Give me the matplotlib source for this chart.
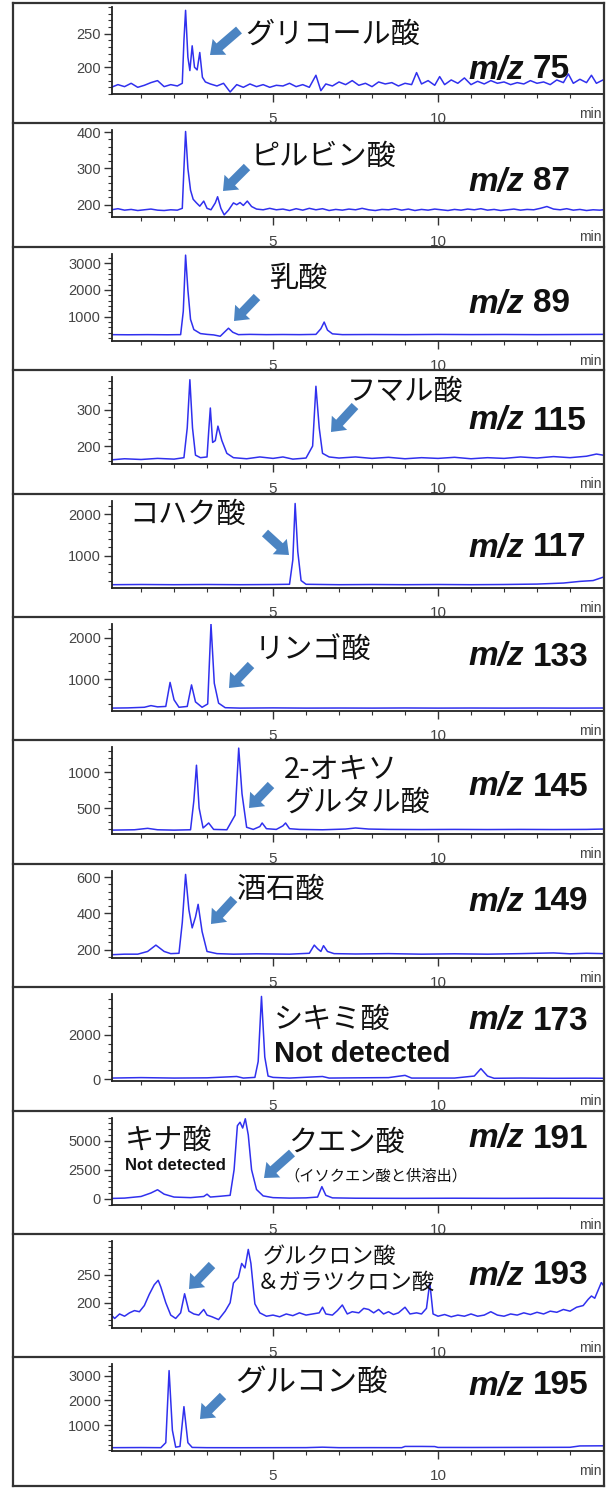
import matplotlib
matplotlib.use("Agg")
import matplotlib.pyplot as plt
from matplotlib.lines import Line2D
from matplotlib.patches import FancyArrowPatch
from matplotlib.ticker import FixedLocator, MultipleLocator

plt.rcParams["font.family"] = ["Liberation Sans", "DejaVu Sans"]

# extracted ion chromatograms: retention time (min) and intensity
t75 = [0.1, 0.3, 0.5, 0.7, 0.9, 1.1, 1.3, 1.5, 1.7, 1.9, 2.1, 2.25, 2.3, 2.35, 2.42, 2.48, 2.55, 2.62, 2.7,
       2.78, 2.86, 2.95, 3.1, 3.3, 3.5, 3.7, 3.9, 4.1, 4.3, 4.5, 4.7, 4.9, 5.1, 5.3, 5.5, 5.7, 5.9, 6.1, 6.3,
       6.45, 6.6, 6.8, 7.0, 7.2, 7.4, 7.6, 7.8, 8.0, 8.2, 8.4, 8.6, 8.8, 9.0, 9.2, 9.35, 9.5, 9.7, 9.9, 10.05,
       10.2, 10.4, 10.6, 10.8, 11.0, 11.2, 11.4, 11.6, 11.8, 12.0, 12.2, 12.4, 12.6, 12.8, 13.0, 13.2, 13.4,
       13.6, 13.8, 13.95, 14.1, 14.3, 14.5, 14.65, 14.8, 15.0]
i75 = [170, 174, 171, 176, 170, 173, 177, 180, 171, 174, 172, 176, 240, 285, 215, 195, 232, 200, 196,
       222, 185, 178, 175, 172, 176, 163, 174, 170, 175, 171, 174, 170, 173, 172, 176, 171, 174, 170, 188,
       165, 175, 172, 178, 174, 180, 173, 176, 171, 178, 175, 177, 172, 176, 174, 192, 175, 180, 173, 186,
       174, 181, 176, 184, 174, 179, 175, 180, 176, 178, 174, 177, 175, 180, 176, 178, 174,
       181, 177, 190, 176, 182, 177, 188, 176, 181]

t87 = [0.1, 0.3, 0.5, 0.7, 0.9, 1.1, 1.3, 1.5, 1.7, 1.9, 2.1, 2.25, 2.3, 2.35, 2.42, 2.5, 2.58, 2.68, 2.78,
       2.9, 3.0, 3.12, 3.25, 3.32, 3.42, 3.52, 3.65, 3.8, 3.9, 4.0, 4.1, 4.22, 4.35, 4.5, 4.7, 4.9, 5.1, 5.3,
       5.5, 5.7, 5.9, 6.1, 6.3, 6.5, 6.7, 6.9, 7.1, 7.3, 7.5, 7.7, 7.9, 8.1, 8.3, 8.5, 8.7, 8.9, 9.1, 9.3,
       9.5, 9.7, 9.9, 10.1, 10.3, 10.5, 10.7, 10.9, 11.1, 11.3, 11.5, 11.7, 11.9, 12.1, 12.3, 12.5, 12.7,
       12.9, 13.1, 13.3, 13.5, 13.7, 13.9, 14.1, 14.3, 14.5, 14.7, 14.9, 15.0]
i87 = [186, 189, 185, 187, 184, 186, 188, 185, 184, 186, 185, 190, 300, 402, 300, 240, 215, 205, 196,
       210, 190, 186, 205, 222, 190, 172, 185, 205, 200, 206, 198, 210, 195, 188, 186, 190, 186, 188,
       184, 189, 185, 190, 186, 189, 184, 187, 185, 188, 186, 190, 186, 184, 187, 186, 189, 185, 188, 184,
       187, 185, 188, 186, 184, 187, 185, 188, 186, 189, 185, 187, 184, 186, 188, 185, 187,
       186, 190, 195, 188, 186, 189, 185, 187, 184, 186, 185, 186]

t89 = [0.1, 0.6, 1.2, 1.8, 2.2, 2.28, 2.35, 2.42, 2.5, 2.6, 2.8, 3.0, 3.2, 3.4, 3.55, 3.65, 3.78, 3.95, 4.3,
       4.8, 5.3, 5.8, 6.3, 6.45, 6.55, 6.65, 6.8, 7.1, 8.0, 9.0, 10.0, 11.0, 12.0, 13.0, 14.0, 15.0]
i89 = [330, 325, 330, 325, 330, 1200, 3300, 2000, 900, 520, 370, 340, 320, 270, 450, 570, 420, 330, 340,
       330, 335, 330, 340, 550, 800, 500, 360, 330, 335, 330, 338, 332, 336, 330, 335, 340]

t115 = [0.1, 0.5, 1.0, 1.5, 2.0, 2.3, 2.4, 2.48, 2.56, 2.65, 2.8, 3.0, 3.05, 3.1, 3.17, 3.25, 3.33, 3.45,
        3.6, 3.8, 4.2, 4.6, 5.0, 5.3, 5.6, 6.0, 6.2, 6.3, 6.4, 6.5, 6.7, 7.0, 7.5, 8.0, 8.5, 9.0, 9.5, 10.0,
        10.5, 11.0, 11.5, 12.0, 12.5, 13.0, 13.5, 14.0, 14.5, 14.8, 15.0]
i115 = [162, 165, 163, 166, 164, 168, 250, 383, 250, 175, 168, 170, 240, 305, 210, 215, 255, 215,
        180, 168, 165, 170, 166, 170, 164, 167, 200, 365, 250, 180, 170, 167, 170, 166, 169, 165, 168, 166,
        169, 165, 168, 166, 170, 167, 171, 168, 172, 178, 175]

t117 = [0.1, 1.0, 2.0, 3.0, 4.0, 5.0, 5.5, 5.6, 5.67, 5.75, 5.85, 6.0, 7.0, 8.0, 9.0, 10.0, 11.0, 12.0,
        13.0, 13.8, 14.3, 14.7, 15.0]
i117 = [300, 305, 300, 305, 300, 305, 310, 900, 2260, 1100, 400, 310, 300, 305, 300, 305, 300, 305,
        315, 340, 380, 400, 480]

t133 = [0.1, 0.6, 1.1, 1.3, 1.5, 1.75, 1.88, 2.0, 2.15, 2.4, 2.53, 2.65, 2.85, 3.02, 3.12, 3.22, 3.35,
        3.55, 4.0, 5.0, 6.0, 7.0, 8.0, 9.0, 10.0, 11.0, 12.0, 13.0, 14.0, 15.0]
i133 = [300, 305, 320, 360, 330, 340, 920, 500, 320, 340, 860, 450, 320, 400, 2330, 900, 420,
        310, 300, 305, 300, 302, 300, 303, 300, 302, 300, 302, 300, 302]

t145 = [0.1, 0.8, 1.2, 1.5, 2.0, 2.5, 2.6, 2.68, 2.76, 2.88, 3.05, 3.2, 3.6, 3.85, 3.96, 4.06, 4.2, 4.4,
        4.6, 4.67, 4.8, 5.1, 5.3, 5.38, 5.5, 5.8, 6.5, 7.2, 7.5, 7.9, 8.5, 9.5, 10.5, 11.5, 12.5, 13.5,
        14.5, 15.0]
i145 = [190, 195, 215, 195, 190, 195, 600, 1100, 500, 220, 290, 200, 195, 400, 1340, 700, 230, 200,
        240, 290, 210, 200, 250, 290, 210, 200, 195, 205, 220, 205, 200, 198, 200, 198, 200, 198,
        200, 205]

t149 = [0.1, 0.5, 0.9, 1.2, 1.45, 1.7, 1.9, 2.15, 2.25, 2.35, 2.45, 2.55, 2.65, 2.73, 2.85, 3.0, 3.3, 3.8,
        4.5, 5.5, 6.1, 6.25, 6.35, 6.45, 6.53, 6.65, 6.85, 7.5, 8.5, 9.5, 10.5, 11.5, 12.5, 13.5, 14.0,
        14.5, 15.0]
i149 = [172, 175, 175, 190, 225, 190, 178, 180, 350, 615, 420, 320, 380, 450, 300, 190, 178, 175,
        177, 175, 180, 225, 205, 190, 222, 190, 178, 176, 178, 175, 177, 175, 178, 182, 177,
        180, 178]

t173 = [0.1, 1.0, 2.0, 3.0, 3.9, 4.1, 4.45, 4.55, 4.65, 4.75, 4.85, 5.0, 5.5, 6.5, 6.7, 7.5, 8.5, 9.0,
        9.2, 10.5, 11.1, 11.3, 11.5, 11.7, 12.5, 13.5, 14.5, 15.0]
i173 = [60, 80, 60, 70, 130, 60, 90, 800, 3700, 1000, 150, 90, 60, 130, 60, 70, 80, 180,
        60, 60, 150, 480, 150, 50, 60, 50, 55, 50]

t191 = [0.1, 0.5, 1.0, 1.3, 1.5, 1.7, 2.0, 2.5, 2.9, 3.0, 3.1, 3.4, 3.7, 3.82, 3.92, 4.0, 4.08, 4.16,
        4.25, 4.35, 4.5, 4.7, 5.0, 5.5, 6.0, 6.35, 6.48, 6.6, 6.8, 7.5, 9.0, 10.5, 12.0, 13.5, 15.0]
i191 = [30, 60, 200, 500, 780, 400, 150, 100, 200, 400, 150, 220, 300, 2500, 6300, 6600, 6100, 6900,
        5500, 2500, 800, 250, 100, 60, 80, 150, 1050, 300, 80, 50, 40, 50, 40, 50, 40]

t193 = [0.1, 0.2, 0.35, 0.5, 0.65, 0.8, 0.95, 1.1, 1.25, 1.4, 1.52, 1.6, 1.75, 1.9, 2.05, 2.2, 2.32, 2.45,
        2.6, 2.75, 2.9, 3.0, 3.15, 3.35, 3.55, 3.7, 3.8, 3.87, 3.95, 4.05, 4.15, 4.25, 4.33, 4.45, 4.6,
        4.8, 5.0, 5.2, 5.4, 5.6, 5.8, 6.0, 6.2, 6.4, 6.5, 6.6, 6.8, 6.95, 7.1, 7.25, 7.4, 7.6, 7.75, 7.9,
        8.05, 8.2, 8.35, 8.5, 8.65, 8.8, 9.0, 9.15, 9.35, 9.5, 9.65, 9.75, 9.85, 10.0, 10.2, 10.4, 10.6,
        10.8, 11.0, 11.2, 11.4, 11.6, 11.8, 12.0, 12.2, 12.4, 12.6, 12.8, 13.0, 13.2, 13.4, 13.6, 13.8,
        14.0, 14.2, 14.4, 14.55, 14.65, 14.75, 14.85, 14.95, 15.0]
i193 = [178, 172, 180, 176, 182, 186, 184, 195, 215, 232, 240, 228, 200, 178, 172, 182, 216, 185,
        180, 178, 188, 178, 175, 170, 185, 200, 235, 240, 245, 270, 262, 295, 270, 198, 182,
        176, 178, 175, 180, 177, 182, 178, 180, 182, 192, 180, 178, 186, 196, 180, 184, 182, 190, 188,
        182, 188, 180, 184, 179, 182, 192, 180, 182, 180, 190, 236, 180, 176, 179, 175, 178,
        176, 180, 176, 178, 184, 178, 176, 180, 178, 182, 179, 183, 180, 185, 183, 188,
        185, 192, 195, 206, 212, 208, 222, 236, 232]

t195 = [0.1, 1.0, 1.6, 1.75, 1.85, 1.95, 2.05, 2.18, 2.3, 2.42, 2.55, 3.0, 4.0, 5.0, 6.0, 6.5, 7.0, 8.0,
        8.9, 9.0, 9.5, 9.9, 10.0, 11.0, 12.0, 13.0, 14.0, 14.3, 15.0]
i195 = [100, 105, 100, 300, 3200, 800, 120, 150, 1750, 300, 110, 100, 98, 100, 102, 120, 100, 102,
        100, 150, 150, 145, 110, 108, 110, 112, 115, 170, 175]

traces = [(t75, i75), (t87, i87), (t89, i89), (t115, i115), (t117, i117), (t133, i133),
          (t145, i145), (t149, i149), (t173, i173), (t191, i191), (t193, i193), (t195, i195)]
mz_values = [75, 87, 89, 115, 117, 133, 145, 149, 173, 191, 193, 195]
y_ranges = [(160, 290), (165, 405), (100, 3350), (150, 390), (230, 2330), (230, 2330),
            (130, 1350), (155, 635), (-80, 3800), (-500, 7000), (155, 310), (-50, 3450)]
y_ticks = [[200, 250], [200, 300, 400], [1000, 2000, 3000], [200, 300], [1000, 2000], [1000, 2000],
           [500, 1000], [200, 400, 600], [0, 2000], [0, 2500, 5000], [200, 250], [1000, 2000, 3000]]
y_minor = [10, 20, 200, 20, 200, 200, 100, 40, 400, 500, 10, 200]

W, H = 611, 1488
fig = plt.figure(figsize=(W / 100, H / 100), dpi=100)
PANEL = 123.4
X0, X1 = 112, 603
LINE = "#3030ee"
ARROW = "#4b84c2"
JP = ["Noto Sans CJK JP", "DejaVu Sans"]
MZ_Y = [70, 182, 304, 421, 548, 657, 787, 902, 1021, 1139, 1276, 1386]


def fxy(x, y):
    return x / W, 1 - y / H


def hline(y, x0=13, x1=604):
    fig.add_artist(Line2D([x0 / W, x1 / W], [1 - y / H] * 2, transform=fig.transFigure,
                          color="#333333", lw=1.6))


def arrow(x0, y0, x1, y1):
    fig.add_artist(FancyArrowPatch(fxy(x0, y0), fxy(x1, y1), transform=fig.transFigure,
                                   arrowstyle="simple,head_length=0.9,head_width=1.5,tail_width=0.65",
                                   mutation_scale=10, color=ARROW, lw=0, shrinkA=0, shrinkB=0))


def label(x, y, s, size=21, **kw):
    kw.setdefault("family", JP)
    fig.text(x / W, 1 - y / H, s, fontsize=size, ha="left", va="center", color="#111111", **kw)


for k, (t, y) in enumerate(traces):
    top = PANEL * k
    ax = fig.add_axes([X0 / W, 1 - (top + 94) / H, (X1 - X0) / W, 87 / H])
    ax.plot(t, y, color=LINE, lw=1.1)
    ax.set_xlim(0.12, 15.0)
    ax.set_ylim(*y_ranges[k])
    ax.xaxis.set_major_locator(FixedLocator([5, 10]))
    ax.xaxis.set_minor_locator(MultipleLocator(1))
    ax.yaxis.set_major_locator(FixedLocator(y_ticks[k]))
    ax.yaxis.set_minor_locator(MultipleLocator(y_minor[k]))
    for side in ("top", "right"):
        ax.spines[side].set_visible(False)
    for side in ("left", "bottom"):
        ax.spines[side].set_color("#222222")
        ax.spines[side].set_linewidth(1.3)
    ax.tick_params(which="major", length=6, width=1, color="#333333", labelcolor="#444444")
    ax.tick_params(which="minor", length=3, width=0.8, color="#333333")
    ax.tick_params(axis="x", labelsize=11, pad=7)
    ax.tick_params(axis="y", labelsize=10.5, pad=2)
    ax.patch.set_alpha(0)
    fig.text(602 / W, 1 - (top + 114) / H, "min", fontsize=10, ha="right", va="center", color="#444444")
    if k > 0:
        hline(top)

    # m/z label
    label(468, MZ_Y[k], "m/z", size=24, family=["Liberation Sans"], style="italic", weight="bold")
    label(533, MZ_Y[k], str(mz_values[k]), size=24, family=["Liberation Sans"], weight="bold")

# outer frame
hline(3)
hline(1486)
for x in (13, 604):
    fig.add_artist(Line2D([x / W] * 2, [1 - 3 / H, 1 - 1486 / H], transform=fig.transFigure,
                          color="#333333", lw=1.6))

# compound names and arrows
label(245, 35, "グリコール酸")
arrow(239, 30, 210, 55)
label(251, 157, "ピルビン酸")
arrow(247, 167, 223, 191)
label(270, 279, "乳酸")
arrow(257, 297, 234, 321)
label(347, 392, "フマル酸")
arrow(355, 406, 331, 432)
label(129, 515, "コハク酸")
arrow(265, 533, 289, 555)
label(255, 651, "リンゴ酸")
arrow(251, 665, 229, 688)
label(284, 770, "2-オキソ")
label(284, 803, "グルタル酸")
arrow(271, 785, 249, 808)
label(237, 890, "酒石酸")
arrow(234, 899, 211, 924)
label(274, 1020, "シキミ酸")
label(274, 1054, "Not detected", size=21, family=["Liberation Sans"], weight="bold")
label(125, 1141, "キナ酸")
label(125, 1165, "Not detected", size=12, family=["Liberation Sans"], weight="bold")
label(288, 1143, "クエン酸")
label(284, 1176, "（イソクエン酸と供溶出）", size=11)
arrow(292, 1153, 264, 1178)
label(263, 1256, "グルクロン酸", size=16)
label(257, 1282, "＆ガラツクロン酸", size=16)
arrow(212, 1265, 189, 1289)
label(235, 1382, "グルコン酸", size=22)
arrow(223, 1396, 200, 1419)

fig.savefig("out.png", dpi=100)
